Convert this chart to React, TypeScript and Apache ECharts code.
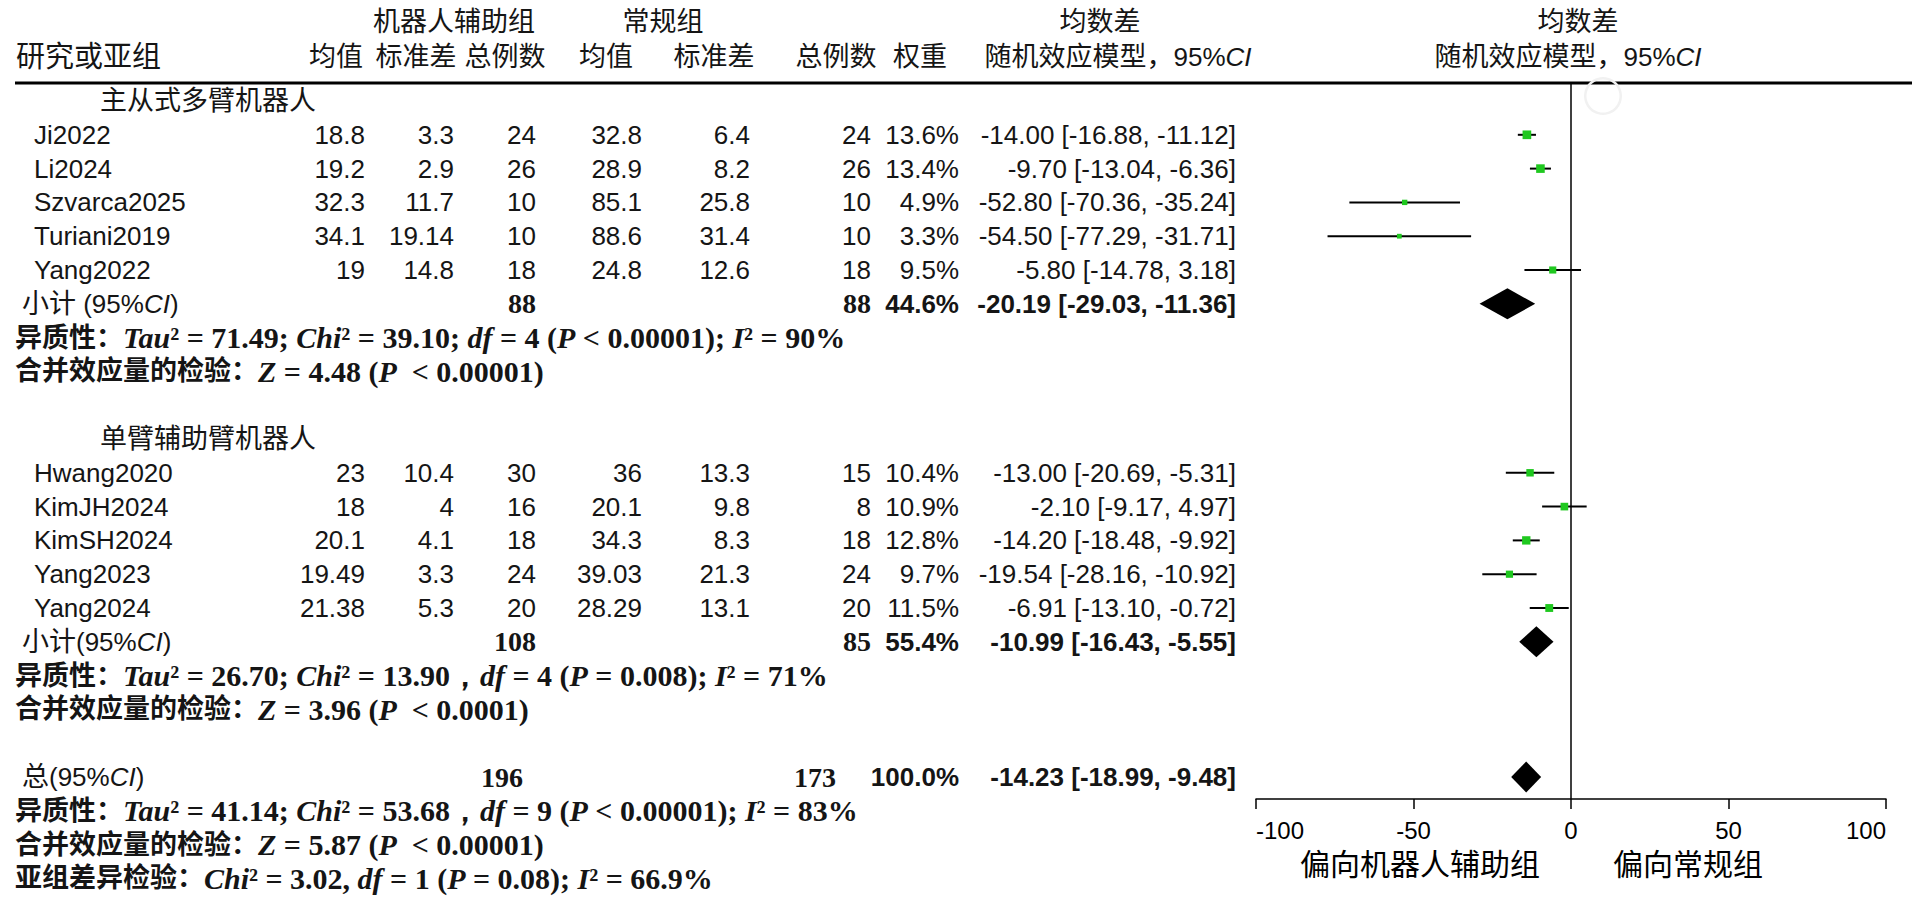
import React, { useEffect, useRef } from "react";
import * as echarts from "echarts";

// ---------------- data ----------------
const subgroupTitles = ["主从式多臂机器人", "单臂辅助臂机器人"];
const subgroupRows = [0, 10];

const studyNames = ["Ji2022", "Li2024", "Szvarca2025", "Turiani2019", "Yang2022", "Hwang2020", "KimJH2024", "KimSH2024", "Yang2023", "Yang2024"];
const studyRows = [1, 2, 3, 4, 5, 11, 12, 13, 14, 15];
const robotMean = ["18.8", "19.2", "32.3", "34.1", "19", "23", "18", "20.1", "19.49", "21.38"];
const robotSd = ["3.3", "2.9", "11.7", "19.14", "14.8", "10.4", "4", "4.1", "3.3", "5.3"];
const robotN = [24, 26, 10, 10, 18, 30, 16, 18, 24, 20];
const ctrlMean = ["32.8", "28.9", "85.1", "88.6", "24.8", "36", "20.1", "34.3", "39.03", "28.29"];
const ctrlSd = ["6.4", "8.2", "25.8", "31.4", "12.6", "13.3", "9.8", "8.3", "21.3", "13.1"];
const ctrlN = [24, 26, 10, 10, 18, 15, 8, 18, 24, 20];
const weights = [13.6, 13.4, 4.9, 3.3, 9.5, 10.4, 10.9, 12.8, 9.7, 11.5];
const md = [-14.0, -9.7, -52.8, -54.5, -5.8, -13.0, -2.1, -14.2, -19.54, -6.91];
const ciLow = [-16.88, -13.04, -70.36, -77.29, -14.78, -20.69, -9.17, -18.48, -28.16, -13.1];
const ciHigh = [-11.12, -6.36, -35.24, -31.71, 3.18, -5.31, 4.97, -9.92, -10.92, -0.72];

const pooledLabels = ["小计", "小计", "总"];
const pooledLabelGap = [" ", "", ""];
const pooledRows = [6, 16, 20];
const pooledRobotN = [88, 108, 196];
const pooledCtrlN = [88, 85, 173];
const pooledWeight = [44.6, 55.4, 100.0];
const pooledMd = [-20.19, -10.99, -14.23];
const pooledLow = [-29.03, -16.43, -18.99];
const pooledHigh = [-11.36, -5.55, -9.48];

const hetRows = [7, 17, 21];
const hetTau2 = ["71.49", "26.70", "41.14"];
const hetChi2 = ["39.10", "13.90", "53.68"];
const hetSep = ["; ", "，", "，"];
const hetDf = [4, 4, 9];
const hetP = ["< 0.00001", "= 0.008", "< 0.00001"];
const hetI2 = ["90%", "71%", "83%"];

const zRows = [8, 18, 22];
const zValues = ["4.48", "3.96", "5.87"];
const zP = ["< 0.00001", "< 0.0001", "< 0.00001"];

const diffRow = 23;
const diffChi2 = "3.02";
const diffDf = 1;
const diffP = "= 0.08";
const diffI2 = "66.9%";

const xTicksMin = -100;
const xTicksMax = 100;
const xTickStep = 50;

const favourLeft = "偏向机器人辅助组";
const favourRight = "偏向常规组";

// ---------------- layout ----------------
const ROW0_Y = 101;
const ROW_H = 33.8;
const GRID = { left: 1256, right: 1886, top: 83, bottom: 799 };
const Y_MIN = (GRID.top - ROW0_Y) / ROW_H;
const Y_MAX = (GRID.bottom - ROW0_Y) / ROW_H;

const COL = {
  name: 34,
  pooled: 22,
  stats: 15,
  title: 100,
  robotMean: 365,
  robotSd: 454,
  robotN: 536,
  ctrlMean: 642,
  ctrlSd: 750,
  ctrlN: 871,
  weight: 959,
  ci: 1236,
};
const TOTAL_N_COL = { robot: 523, ctrl: 836 };

const LATIN = "'Liberation Sans', Arial, sans-serif";
const SERIF = "'Liberation Serif', 'Times New Roman', serif";
// primary (metric) font is Latin; CJK glyphs fall back to Noto Sans CJK
const CJK = "'Liberation Sans', 'Noto Sans CJK SC', sans-serif";
const INK = "#151515";
const FS = 26;
const FS_CJK = 27;
const FS_SERIF = 30;
const LH = 26;

const rich = {
  c: { fontFamily: CJK, fontSize: FS_CJK, color: INK, lineHeight: LH },
  cb: { fontFamily: CJK, fontSize: FS_CJK, fontWeight: "bold", color: INK, lineHeight: LH },
  n: { fontFamily: LATIN, fontSize: FS, color: INK, lineHeight: LH },
  ni: { fontFamily: LATIN, fontSize: FS, fontStyle: "italic", color: INK, lineHeight: LH },
  s: { fontFamily: SERIF, fontSize: FS_SERIF, fontWeight: "bold", color: INK, lineHeight: LH },
  si: { fontFamily: SERIF, fontSize: FS_SERIF, fontWeight: "bold", fontStyle: "italic", color: INK, lineHeight: LH },
};

const fmt = (v: number) => v.toFixed(2);
const ciText = (m: number, l: number, h: number) => `${fmt(m)} [${fmt(l)}, ${fmt(h)}]`;

function textEl(x: number, y: number, text: string, align: string, font: string, extra: any = {}) {
  return {
    type: "text",
    style: { x, y, text, align, verticalAlign: "middle", font, fill: INK, lineHeight: LH, ...extra },
  };
}

function richEl(x: number, y: number, text: string, align: string) {
  return {
    type: "text",
    style: { x, y, text, align, verticalAlign: "middle", rich, fill: INK, lineHeight: LH },
  };
}

function headerText(x: number, y: number, text: string, align: string, font: string, fill = INK) {
  return { type: "text", silent: true, style: { x, y, text, align, verticalAlign: "middle", font, fill, lineHeight: LH } };
}

export default function App() {
  const ref = useRef<HTMLDivElement>(null);

  useEffect(() => {
    if (!ref.current) return;
    const chart = echarts.init(ref.current, undefined, { renderer: "svg" });

    const fontN = `${FS}px ${LATIN}`;
    const fontNB = `bold ${FS}px ${LATIN}`;
    const fontSB = `bold 28px ${SERIF}`;
    const fontC = `${FS_CJK}px ${CJK}`;

    const option: any = {
      animation: false,
      backgroundColor: "#ffffff",
      grid: {
        left: GRID.left,
        top: GRID.top,
        width: GRID.right - GRID.left,
        height: GRID.bottom - GRID.top,
      },
      xAxis: {
        type: "value",
        min: xTicksMin,
        max: xTicksMax,
        interval: xTickStep,
        axisLine: { show: true, onZero: false, lineStyle: { color: "#000", width: 1.5 } },
        axisTick: { show: true, length: 10, lineStyle: { color: "#000", width: 1.5 } },
        axisLabel: {
          color: "#000",
          fontFamily: LATIN,
          fontSize: 24,
          margin: 19,
          alignMinLabel: "left",
          alignMaxLabel: "right",
        },
        splitLine: { show: false },
      },
      yAxis: { type: "value", min: Y_MIN, max: Y_MAX, inverse: true, show: false },
      series: [
        {
          name: "zero",
          type: "line",
          silent: true,
          symbol: "none",
          data: [[0, Y_MIN], [0, Y_MAX]],
          lineStyle: { color: "#000", width: 1.5 },
        },
        {
          name: "studies",
          type: "custom",
          silent: true,
          encode: { x: 0, y: 1 },
          data: studyRows.map((r, i) => [md[i], r, ciLow[i], ciHigh[i], weights[i]]),
          renderItem: (params: any, api: any) => {
            const row = api.value(1);
            const p = api.coord([api.value(0), row]);
            const a = api.coord([api.value(2), row]);
            const b = api.coord([api.value(3), row]);
            const s = 3.5 + api.value(4) * 0.38;
            return {
              type: "group",
              children: [
                { type: "line", shape: { x1: a[0], y1: a[1], x2: b[0], y2: b[1] }, style: { stroke: "#000", lineWidth: 2 } },
                { type: "rect", shape: { x: p[0] - s / 2, y: p[1] - s / 2, width: s, height: s }, style: { fill: "#1fc81f" } },
              ],
            };
          },
        },
        {
          name: "pooled",
          type: "custom",
          silent: true,
          encode: { x: 0, y: 1 },
          data: pooledRows.map((r, i) => [pooledMd[i], r, pooledLow[i], pooledHigh[i]]),
          renderItem: (params: any, api: any) => {
            const row = api.value(1);
            const p = api.coord([api.value(0), row]);
            const a = api.coord([api.value(2), row]);
            const b = api.coord([api.value(3), row]);
            const h = 15.5;
            return {
              type: "polygon",
              shape: { points: [[a[0], p[1]], [p[0], p[1] - h], [b[0], p[1]], [p[0], p[1] + h]] },
              style: { fill: "#000" },
            };
          },
        },
        {
          name: "subgroupTitles",
          type: "custom",
          silent: true,
          encode: { x: 0, y: 1 },
          data: subgroupRows.map((r) => [0, r]),
          renderItem: (params: any, api: any) => {
            const y = api.coord([0, api.value(1)])[1];
            return textEl(COL.title, y, subgroupTitles[params.dataIndex], "left", fontC);
          },
        },
        {
          name: "studyText",
          type: "custom",
          silent: true,
          encode: { x: 0, y: 1 },
          data: studyRows.map((r) => [0, r]),
          renderItem: (params: any, api: any) => {
            const i = params.dataIndex;
            const y = api.coord([0, api.value(1)])[1];
            return {
              type: "group",
              children: [
                textEl(COL.name, y, studyNames[i], "left", fontN),
                textEl(COL.robotMean, y, robotMean[i], "right", fontN),
                textEl(COL.robotSd, y, robotSd[i], "right", fontN),
                textEl(COL.robotN, y, String(robotN[i]), "right", fontN),
                textEl(COL.ctrlMean, y, ctrlMean[i], "right", fontN),
                textEl(COL.ctrlSd, y, ctrlSd[i], "right", fontN),
                textEl(COL.ctrlN, y, String(ctrlN[i]), "right", fontN),
                textEl(COL.weight, y, weights[i].toFixed(1) + "%", "right", fontN),
                textEl(COL.ci, y, ciText(md[i], ciLow[i], ciHigh[i]), "right", fontN),
              ],
            };
          },
        },
        {
          name: "pooledText",
          type: "custom",
          silent: true,
          encode: { x: 0, y: 1 },
          data: pooledRows.map((r) => [0, r]),
          renderItem: (params: any, api: any) => {
            const i = params.dataIndex;
            const y = api.coord([0, api.value(1)])[1];
            const isTotal = i === pooledRows.length - 1;
            return {
              type: "group",
              children: [
                richEl(COL.pooled, y, `{c|${pooledLabels[i]}}{n|${pooledLabelGap[i]}(95%}{ni|CI}{n|)}`, "left"),
                textEl(isTotal ? TOTAL_N_COL.robot : COL.robotN, y, String(pooledRobotN[i]), "right", fontSB),
                textEl(isTotal ? TOTAL_N_COL.ctrl : COL.ctrlN, y, String(pooledCtrlN[i]), "right", fontSB),
                textEl(COL.weight, y, pooledWeight[i].toFixed(1) + "%", "right", fontNB),
                textEl(COL.ci, y, ciText(pooledMd[i], pooledLow[i], pooledHigh[i]), "right", fontNB),
              ],
            };
          },
        },
        {
          name: "hetText",
          type: "custom",
          silent: true,
          encode: { x: 0, y: 1 },
          data: hetRows.map((r) => [0, r]),
          renderItem: (params: any, api: any) => {
            const i = params.dataIndex;
            const y = api.coord([0, api.value(1)])[1];
            const t =
              `{cb|异质性：}{si|Tau}{s|² = ${hetTau2[i]}; }{si|Chi}{s|² = ${hetChi2[i]}${hetSep[i]}}` +
              `{si|df}{s| = ${hetDf[i]} (}{si|P}{s| ${hetP[i]}); }{si|I}{s|² = ${hetI2[i]}}`;
            return richEl(COL.stats, y, t, "left");
          },
        },
        {
          name: "zText",
          type: "custom",
          silent: true,
          encode: { x: 0, y: 1 },
          data: zRows.map((r) => [0, r]),
          renderItem: (params: any, api: any) => {
            const i = params.dataIndex;
            const y = api.coord([0, api.value(1)])[1];
            const t = `{cb|合并效应量的检验：}{si|Z}{s| = ${zValues[i]} (}{si|P}{s|  ${zP[i]})}`;
            return richEl(COL.stats, y, t, "left");
          },
        },
        {
          name: "diffText",
          type: "custom",
          silent: true,
          encode: { x: 0, y: 1 },
          data: [[0, diffRow]],
          renderItem: (params: any, api: any) => {
            const y = api.coord([0, api.value(1)])[1];
            const t =
              `{cb|亚组差异检验：}{si|Chi}{s|² = ${diffChi2}, }{si|df}{s| = ${diffDf} (}{si|P}{s| ${diffP}); }` +
              `{si|I}{s|² = ${diffI2}}`;
            return richEl(COL.stats, y, t, "left");
          },
        },
      ],
      graphic: [
        { type: "line", silent: true, shape: { x1: 15, y1: GRID.top, x2: 1912, y2: GRID.top }, style: { stroke: "#000", lineWidth: 3 } },
        { type: "ring", silent: true, shape: { cx: 1603, cy: 96, r: 19, r0: 16.5 }, style: { fill: "#f1f1f1" } },
        headerText(454, 22, "机器人辅助组", "center", fontC),
        headerText(663, 22, "常规组", "center", fontC),
        headerText(1100, 22, "均数差", "center", fontC),
        headerText(1578, 22, "均数差", "center", fontC),
        headerText(16, 57, "研究或亚组", "left", `29px ${CJK}`),
        headerText(336, 57, "均值", "center", fontC),
        headerText(416, 57, "标准差", "center", fontC),
        headerText(505, 57, "总例数", "center", fontC),
        headerText(606, 57, "均值", "center", fontC),
        headerText(714, 57, "标准差", "center", fontC),
        headerText(836, 57, "总例数", "center", fontC),
        headerText(920, 57, "权重", "center", fontC),
        { type: "text", silent: true, style: { x: 1118, y: 57, text: "{c|随机效应模型，}{n|95%}{ni|CI}", align: "center", verticalAlign: "middle", rich, fill: INK } },
        { type: "text", silent: true, style: { x: 1568, y: 57, text: "{c|随机效应模型，}{n|95%}{ni|CI}", align: "center", verticalAlign: "middle", rich, fill: INK } },
        headerText(1420, 864, favourLeft, "center", `30px ${CJK}`, "#000"),
        headerText(1688, 864, favourRight, "center", `30px ${CJK}`, "#000"),
      ],
    };

    chart.setOption(option);
    return () => chart.dispose();
  }, []);

  return (
    <div
      ref={ref}
      style={{ position: "fixed", left: 0, top: 0, width: "1918px", height: "897px", background: "#fff" }}
    />
  );
}
